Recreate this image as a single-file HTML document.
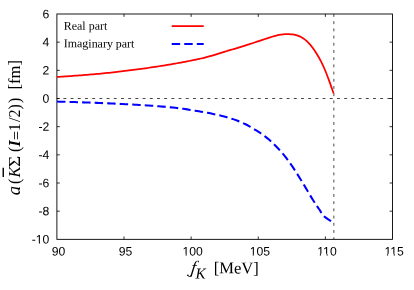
<!DOCTYPE html>
<html><head><meta charset="utf-8"><style>
html,body{margin:0;padding:0;background:#fff}
svg{display:block;will-change:transform;font-family:"Liberation Sans",sans-serif;font-size:12.2px;fill:#000}
.s{font-family:"Liberation Serif",serif}
</style></head><body>
<svg width="414" height="290" viewBox="0 0 414 290">
<rect width="414" height="290" fill="#fff"/>
<g fill="none" stroke="#000" stroke-width="0.9">
<rect x="56.9" y="14.0" width="335.60" height="225.35"/>
<g stroke-width="0.8"><path d="M124.02,239.35v-2.9M124.02,14.00v2.9"/><path d="M191.14,239.35v-2.9M191.14,14.00v2.9"/><path d="M258.26,239.35v-2.9M258.26,14.00v2.9"/><path d="M325.38,239.35v-2.9M325.38,14.00v2.9"/><path d="M56.90,211.18h2.9M392.50,211.18h-2.9"/><path d="M56.90,183.01h2.9M392.50,183.01h-2.9"/><path d="M56.90,154.84h2.9M392.50,154.84h-2.9"/><path d="M56.90,126.67h2.9M392.50,126.67h-2.9"/><path d="M56.90,98.51h2.9M392.50,98.51h-2.9"/><path d="M56.90,70.34h2.9M392.50,70.34h-2.9"/><path d="M56.90,42.17h2.9M392.50,42.17h-2.9"/></g>
</g>
<g fill="none" stroke="#000" stroke-width="0.72" stroke-dasharray="2.9 4.3">
<path d="M56.9,98.5H392.5" stroke-dashoffset="0.7"/>
<path d="M333.85,14.0V239.35"/>
</g>
<path d="M57.00,76.95 C57.67,76.91 59.67,76.78 61.00,76.69 C62.33,76.60 63.67,76.51 65.00,76.42 C66.33,76.33 67.67,76.24 69.00,76.15 C70.33,76.06 71.67,75.96 73.00,75.87 C74.33,75.77 75.67,75.67 77.00,75.57 C78.33,75.48 79.67,75.38 81.00,75.27 C82.33,75.17 83.67,75.06 85.00,74.95 C86.33,74.84 87.67,74.74 89.00,74.62 C90.33,74.51 91.67,74.40 93.00,74.29 C94.33,74.17 95.67,74.06 97.00,73.94 C98.33,73.82 99.67,73.70 101.00,73.58 C102.33,73.45 103.67,73.33 105.00,73.20 C106.33,73.06 107.67,72.91 109.00,72.77 C110.33,72.63 111.67,72.48 113.00,72.33 C114.33,72.19 115.67,72.04 117.00,71.88 C118.33,71.73 119.67,71.58 121.00,71.42 C122.33,71.26 123.67,71.10 125.00,70.94 C126.33,70.78 127.67,70.62 129.00,70.45 C130.33,70.28 131.67,70.12 133.00,69.94 C134.33,69.77 135.67,69.60 137.00,69.42 C138.33,69.24 139.67,69.06 141.00,68.88 C142.33,68.70 143.67,68.51 145.00,68.32 C146.33,68.13 147.67,67.94 149.00,67.75 C150.33,67.55 151.67,67.35 153.00,67.15 C154.33,66.95 155.67,66.76 157.00,66.56 C158.33,66.35 159.67,66.15 161.00,65.94 C162.33,65.74 163.67,65.53 165.00,65.31 C166.33,65.10 167.67,64.88 169.00,64.65 C170.33,64.43 171.67,64.20 173.00,63.97 C174.33,63.74 175.67,63.50 177.00,63.26 C178.33,63.02 179.67,62.78 181.00,62.54 C182.33,62.29 183.67,62.04 185.00,61.79 C186.33,61.53 187.67,61.27 189.00,61.01 C190.33,60.74 191.67,60.47 193.00,60.20 C194.33,59.92 195.67,59.64 197.00,59.36 C198.33,59.07 199.67,58.78 201.00,58.48 C202.33,58.18 203.67,57.87 205.00,57.53 C206.33,57.19 207.67,56.81 209.00,56.44 C210.33,56.07 211.67,55.69 213.00,55.31 C214.33,54.93 215.67,54.54 217.00,54.14 C218.33,53.74 219.67,53.34 221.00,52.93 C222.33,52.52 223.67,52.11 225.00,51.69 C226.33,51.26 227.67,50.81 229.00,50.40 C230.33,49.99 231.67,49.64 233.00,49.25 C234.33,48.86 235.67,48.47 237.00,48.06 C238.33,47.66 239.67,47.25 241.00,46.84 C242.33,46.43 243.67,46.01 245.00,45.59 C246.33,45.17 247.67,44.74 249.00,44.32 C250.33,43.89 251.67,43.47 253.00,43.02 C254.33,42.58 255.67,42.12 257.00,41.67 C258.33,41.22 259.67,40.75 261.00,40.31 C262.33,39.86 263.67,39.41 265.00,38.98 C266.33,38.54 267.67,38.12 269.00,37.70 C270.33,37.29 271.67,36.86 273.00,36.47 C274.33,36.08 275.67,35.68 277.00,35.37 C278.33,35.05 279.67,34.79 281.00,34.59 C282.33,34.39 283.67,34.24 285.00,34.16 C286.33,34.08 287.67,34.05 289.00,34.10 C290.33,34.15 291.67,34.26 293.00,34.48 C294.33,34.71 295.67,35.00 297.00,35.44 C298.33,35.87 299.67,36.39 301.00,37.09 C302.33,37.80 303.67,38.63 305.00,39.67 C306.33,40.70 307.67,41.90 309.00,43.32 C310.33,44.74 311.67,46.36 313.00,48.18 C314.33,50.01 315.67,52.06 317.00,54.27 C318.33,56.48 319.67,58.81 321.00,61.44 C322.33,64.06 323.67,66.85 325.00,70.01 C326.33,73.17 327.67,76.80 329.00,80.41 C330.33,84.02 332.23,89.51 333.00,91.68 C333.77,93.84 333.50,93.11 333.60,93.40" fill="none" stroke="#f00" stroke-width="1.75"/>
<path d="M57.00,101.60 C57.67,101.62 59.67,101.67 61.00,101.70 C62.33,101.74 63.67,101.78 65.00,101.81 C66.33,101.85 67.67,101.89 69.00,101.93 C70.33,101.96 71.67,102.00 73.00,102.04 C74.33,102.08 75.67,102.12 77.00,102.16 C78.33,102.21 79.67,102.25 81.00,102.29 C82.33,102.34 83.67,102.38 85.00,102.43 C86.33,102.47 87.67,102.52 89.00,102.56 C90.33,102.61 91.67,102.66 93.00,102.71 C94.33,102.76 95.67,102.81 97.00,102.86 C98.33,102.91 99.67,102.97 101.00,103.02 C102.33,103.08 103.67,103.13 105.00,103.19 C106.33,103.24 107.67,103.30 109.00,103.36 C110.33,103.42 111.67,103.48 113.00,103.55 C114.33,103.61 115.67,103.67 117.00,103.74 C118.33,103.80 119.67,103.87 121.00,103.94 C122.33,104.01 123.67,104.08 125.00,104.15 C126.33,104.22 127.67,104.28 129.00,104.35 C130.33,104.42 131.67,104.49 133.00,104.56 C134.33,104.64 135.67,104.71 137.00,104.79 C138.33,104.87 139.67,104.95 141.00,105.03 C142.33,105.11 143.67,105.20 145.00,105.28 C146.33,105.37 147.67,105.46 149.00,105.55 C150.33,105.65 151.67,105.74 153.00,105.84 C154.33,105.94 155.67,106.05 157.00,106.15 C158.33,106.26 159.67,106.36 161.00,106.47 C162.33,106.58 163.67,106.69 165.00,106.80 C166.33,106.92 167.67,107.04 169.00,107.17 C170.33,107.29 171.67,107.42 173.00,107.55 C174.33,107.69 175.67,107.82 177.00,107.97 C178.33,108.12 179.67,108.30 181.00,108.48 C182.33,108.66 183.67,108.85 185.00,109.05 C186.33,109.24 187.67,109.44 189.00,109.65 C190.33,109.86 191.67,110.08 193.00,110.30 C194.33,110.52 195.67,110.76 197.00,110.99 C198.33,111.22 199.67,111.44 201.00,111.67 C202.33,111.89 203.67,112.11 205.00,112.35 C206.33,112.59 207.67,112.83 209.00,113.09 C210.33,113.35 211.67,113.62 213.00,113.90 C214.33,114.18 215.67,114.46 217.00,114.76 C218.33,115.05 219.67,115.36 221.00,115.68 C222.33,116.00 223.67,116.33 225.00,116.69 C226.33,117.05 227.67,117.44 229.00,117.85 C230.33,118.25 231.67,118.68 233.00,119.13 C234.33,119.59 235.67,120.06 237.00,120.57 C238.33,121.09 239.67,121.63 241.00,122.20 C242.33,122.77 243.67,123.35 245.00,123.99 C246.33,124.63 247.67,125.30 249.00,126.03 C250.33,126.76 251.67,127.54 253.00,128.35 C254.33,129.16 255.67,130.03 257.00,130.89 C258.33,131.76 259.67,132.60 261.00,133.52 C262.33,134.43 263.67,135.36 265.00,136.36 C266.33,137.37 267.67,138.42 269.00,139.56 C270.33,140.71 271.67,141.95 273.00,143.24 C274.33,144.52 275.67,145.88 277.00,147.28 C278.33,148.68 279.67,150.10 281.00,151.62 C282.33,153.13 283.67,154.70 285.00,156.38 C286.33,158.05 287.67,159.82 289.00,161.66 C290.33,163.49 291.67,165.40 293.00,167.40 C294.33,169.39 295.67,171.50 297.00,173.61 C298.33,175.73 299.67,177.91 301.00,180.08 C302.33,182.25 303.67,184.42 305.00,186.63 C306.33,188.85 307.67,191.14 309.00,193.37 C310.33,195.60 311.67,197.91 313.00,200.03 C314.33,202.16 315.93,204.56 317.00,206.14 C318.07,207.72 318.25,207.81 319.40,209.50 C320.55,211.19 321.92,214.35 323.90,216.30 C325.88,218.25 330.07,220.38 331.30,221.20" fill="none" stroke="#00f" stroke-width="2.05" stroke-dasharray="8.45 4.1"/>
<path d="M171.7,26.05H203.7" stroke="#f00" stroke-width="1.75"/>
<path d="M171.7,43.95H203.7" stroke="#00f" stroke-width="2.05" stroke-dasharray="8.45 4.1"/>
<text transform="rotate(0.06 58.50 255.45)" x="58.50" y="255.45" text-anchor="middle">90</text><text transform="rotate(0.06 125.62 255.45)" x="125.62" y="255.45" text-anchor="middle">95</text><text transform="rotate(0.06 192.74 255.45)" x="192.74" y="255.45" text-anchor="middle">100</text><path d="M182.80,253.70H185.59V256.35H182.80ZM186.75,253.70H189.59V256.35H186.75Z" fill="#fff"/><text transform="rotate(0.06 259.86 255.45)" x="259.86" y="255.45" text-anchor="middle">105</text><path d="M249.92,253.70H252.71V256.35H249.92ZM253.87,253.70H256.71V256.35H253.87Z" fill="#fff"/><text transform="rotate(0.06 326.98 255.45)" x="326.98" y="255.45" text-anchor="middle">110</text><path d="M317.04,253.70H319.83V256.35H317.04ZM320.99,253.70H323.83V256.35H320.99Z" fill="#fff"/><path d="M323.83,253.70H326.61V256.35H323.83ZM327.78,253.70H330.62V256.35H327.78Z" fill="#fff"/><text transform="rotate(0.06 394.10 255.45)" x="394.10" y="255.45" text-anchor="middle">115</text><path d="M384.16,253.70H386.95V256.35H384.16ZM388.11,253.70H390.95V256.35H388.11Z" fill="#fff"/><path d="M390.95,253.70H393.73V256.35H390.95ZM394.90,253.70H397.74V256.35H394.90Z" fill="#fff"/>
<text transform="rotate(0.06 49.40 243.55)" x="49.40" y="243.55" text-anchor="end">-10</text><path d="M36.07,241.80H38.86V244.45H36.07ZM40.02,241.80H42.86V244.45H40.02Z" fill="#fff"/><text transform="rotate(0.06 49.40 215.38)" x="49.40" y="215.38" text-anchor="end">-8</text><text transform="rotate(0.06 49.40 187.21)" x="49.40" y="187.21" text-anchor="end">-6</text><text transform="rotate(0.06 49.40 159.04)" x="49.40" y="159.04" text-anchor="end">-4</text><text transform="rotate(0.06 49.40 130.88)" x="49.40" y="130.88" text-anchor="end">-2</text><text transform="rotate(0.06 49.40 102.71)" x="49.40" y="102.71" text-anchor="end">0</text><text transform="rotate(0.06 49.40 74.54)" x="49.40" y="74.54" text-anchor="end">2</text><text transform="rotate(0.06 49.40 46.37)" x="49.40" y="46.37" text-anchor="end">4</text><text transform="rotate(0.06 49.40 18.20)" x="49.40" y="18.20" text-anchor="end">6</text>
<text class="s" transform="rotate(0.06 85 29.7)" x="63.8" y="29.7" style="font-size:11.95px">Real part</text>
<text class="s" transform="rotate(0.06 99 47.4)" x="63.8" y="47.4" style="font-size:11.95px">Imaginary part</text>
<g class="s" style="font-size:16px">
<text transform="translate(190.5,273.0) skewX(-7.7)" font-style="italic" style="font-size:17.6px">f</text>
<path d="M191.3,275.4C190.6,277.0 188.7,277.0 187.7,275.5" fill="none" stroke="#000" stroke-width="1" stroke-linecap="round"/><circle cx="187.9" cy="275.2" r="0.8"/>
<text transform="rotate(0.06 200 278.5)" x="195.6" y="278.5" font-style="italic" style="font-size:15.2px">K</text>
<text transform="rotate(0.06 236 273.4)" x="213.7" y="273.4" style="font-size:16.6px">[MeV]</text>
</g>
<g class="s" transform="translate(20.3,0) rotate(-90)" style="font-size:16px">
<text x="-195.3" y="0" font-style="italic" style="font-size:18.6px">a</text>
<text x="-184.1" y="0">(</text>
<text x="-177.6" y="0" font-style="italic" style="font-size:16.5px">K</text>
<g transform="translate(-167.1,0) scale(1.16,1)"><text x="0" y="0" style="font-size:16.5px">&#931;</text></g>
<text x="-151.9" y="0">(</text>
<text x="-146.4" y="0" font-style="italic" font-weight="bold">I</text>
<text x="-140.0" y="1.4">=</text>
<text x="-131.2" y="0">1</text>
<text x="-122.0" y="0">/2)</text>
<text x="-102.9" y="0">)</text>
<text x="-89.5" y="0" style="font-size:16.6px">[fm]</text>
</g>
<path d="M3.25,167.7V176.9" stroke="#000" stroke-width="1.4"/>
</svg>
</body></html>
